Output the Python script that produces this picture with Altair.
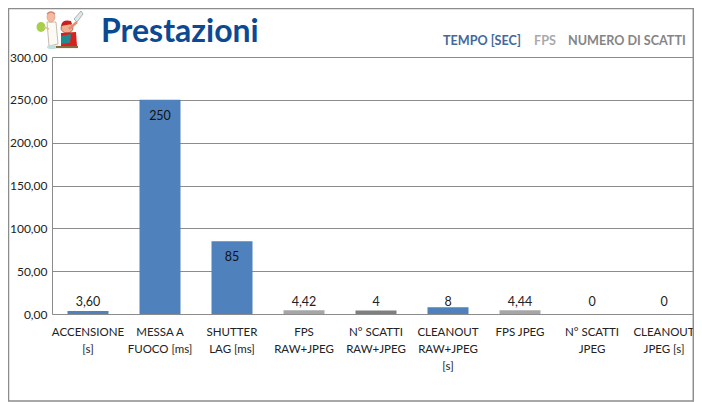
import altair as alt
import pandas as pd
from urllib.parse import quote

categories = ["ACCENSIONE|[s]", "MESSA A|FUOCO [ms]", "SHUTTER|LAG [ms]", "FPS|RAW+JPEG",
              "N° SCATTI|RAW+JPEG", "CLEANOUT|RAW+JPEG|[s]", "FPS JPEG", "N° SCATTI|JPEG", "CLEANOUT|JPEG [s]"]
values = [3.6, 250, 85, 4.42, 4, 8, 4.44, 0, 0]
labels = ["3,60", "250", "85", "4,42", "4", "8", "4,44", "0", "0"]
groups = ["t", "t", "t", "f", "n", "t", "f", "n", "n"]
legend_names = ["TEMPO [SEC]", "FPS", "NUMERO DI SCATTI"]
legend_x = [391, 482, 516]
legend_colors = ["#44689b", "#a9a9a9", "#858585"]
colors = {"t": "#4f81bd", "f": "#a6a6a6", "n": "#7f7f7f"}
FRAME = "#8c8c8c"

df = pd.DataFrame({"cat": categories, "v": values, "lab": labels,
                   "color": [colors[g] for g in groups]})

icon_svg = """<svg xmlns='http://www.w3.org/2000/svg' viewBox='0 0 48 40'>
<path d='M11 12 L20 12 L22 34 L13 36 Z' fill='#fbfbf4' stroke='#b9a9a0' stroke-width='.8'/>
<ellipse cx='15' cy='7' rx='4' ry='5' fill='#f4b9a0' stroke='#c58a70' stroke-width='.5'/>
<path d='M11 4 Q15 0 19 4' fill='none' stroke='#d08a70' stroke-width='1.6'/>
<ellipse cx='5' cy='17' rx='4.5' ry='5' fill='#a8cf4a'/>
<path d='M8 17 L13 19' stroke='#e8b9a0' stroke-width='1.6'/>
<ellipse cx='16' cy='37' rx='5' ry='2' fill='#bfe0dc'/>
<path d='M38 9 L45 1 L47 4 L41 12 Z' fill='#dfe8e8' stroke='#8a9a9a' stroke-width='.7'/>
<ellipse cx='31' cy='18' rx='6' ry='5' fill='#f0b090' stroke='#803020' stroke-width='.6'/>
<path d='M25 16 Q26 9 35 11 L36 14 Z' fill='#c8201c'/>
<path d='M33 19 L41 12' stroke='#e09070' stroke-width='2.4'/>
<path d='M25 23 L40 22 L41 36 L25 36 Z' fill='#d8201c'/>
<path d='M25 26 L35 24 L34 33 L25 34 Z' fill='#208a90'/>
<path d='M20 37 L42 37' stroke='#8a6a40' stroke-width='2.2'/>
</svg>"""
icon_url = "data:image/svg+xml," + quote(icon_svg)

W, H = 648, 257
x = alt.X("cat:N", sort=categories, scale=alt.Scale(paddingInner=0.43, paddingOuter=0.215),
          axis=alt.Axis(title=None, labelAngle=0, labelExpr="split(datum.label,'|')",
                        labelFont="Lato", labelFontSize=11.5, labelColor="#222222",
                        labelLineHeight=17, labelPadding=12, ticks=False, domainColor=FRAME,
                        labelBaseline="top", labelLimit=100))
y = alt.Y("v:Q", scale=alt.Scale(domain=[0, 300], nice=False),
          axis=alt.Axis(title=None, values=[0, 50, 100, 150, 200, 250, 300],
                        labelExpr="replace(format(datum.value,'.2f'),'.',',')",
                        labelFont="Lato", labelFontSize=12, labelColor="#222222",
                        labelPadding=5, ticks=False, domain=True, domainColor=FRAME,
                        grid=True, gridColor=FRAME, gridWidth=1))
x_plain = alt.X("cat:N", sort=categories)
y_plain = alt.Y("v:Q")

bars = alt.Chart(df).mark_bar(size=41).encode(x=x, y=y, color=alt.Color("color:N", scale=None))
outside = alt.Chart(df[df.v < 50]).mark_text(font="Lato", fontSize=12.5, color="#222222").encode(
    x=x_plain, y=alt.value(245), text="lab:N")
inside = alt.Chart(df[df.v >= 50]).mark_text(dy=16, font="Lato", fontSize=12.5, color="#111111").encode(
    x=x_plain, y=y_plain, text="lab:N")

title = alt.Chart(pd.DataFrame({"t": ["Prestazioni"]})).mark_text(
    font="Lato", fontSize=32, fontWeight="bold", color="#0b4a92", align="left", baseline="alphabetic"
).encode(x=alt.value(49), y=alt.value(-15), text="t:N")
leg = alt.Chart(pd.DataFrame({"t": legend_names, "x": legend_x, "c": legend_colors})).mark_text(
    font="Lato", fontSize=12.6, fontWeight="bold", align="left", baseline="alphabetic"
).encode(x=alt.X("x:Q", scale=None), y=alt.value(-12), text="t:N", color=alt.Color("c:N", scale=None))
icon = alt.Chart(pd.DataFrame({"u": [icon_url]})).mark_image(width=48, height=40).encode(
    x=alt.value(8), y=alt.value(-27), url="u:N")

frame_df = pd.DataFrame({"k": ["frame"]})
frame = alt.Chart(frame_df).mark_rect(fill=None, stroke=FRAME, strokeWidth=1.5, clip=False).encode(
    x=alt.value(-43.5), x2=alt.value(641.3), y=alt.value(-48.5), y2=alt.value(344))

chart = alt.layer(frame, bars, outside, inside, title, leg, icon).properties(
    width=W, height=H, autosize=alt.AutoSizeParams(type="none"),
    padding={"left": 44, "top": 49, "right": -6, "bottom": 88}, background="white"
).configure_view(stroke=None)

chart.save("out.html", embed_options={"renderer": "svg", "actions": False})
